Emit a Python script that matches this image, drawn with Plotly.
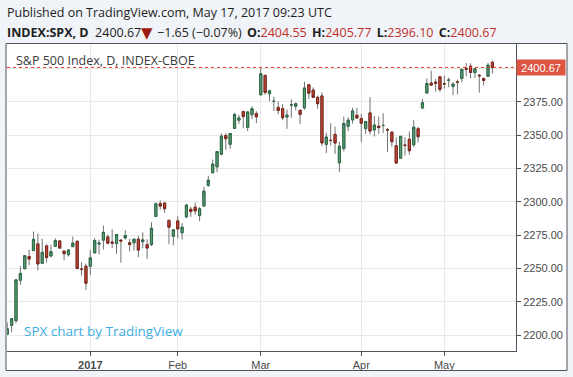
import plotly.graph_objects as go

# ---------------- data ----------------
dates = [
    "2016-12-05", "2016-12-06", "2016-12-07", "2016-12-08", "2016-12-09",
    "2016-12-12", "2016-12-13", "2016-12-14", "2016-12-15", "2016-12-16",
    "2016-12-19", "2016-12-20", "2016-12-21", "2016-12-22", "2016-12-23",
    "2016-12-27", "2016-12-28", "2016-12-29", "2016-12-30",
    "2017-01-03", "2017-01-04", "2017-01-05", "2017-01-06", "2017-01-09",
    "2017-01-10", "2017-01-11", "2017-01-12", "2017-01-13", "2017-01-17",
    "2017-01-18", "2017-01-19", "2017-01-20", "2017-01-23", "2017-01-24",
    "2017-01-25", "2017-01-26", "2017-01-27", "2017-01-30", "2017-01-31",
    "2017-02-01", "2017-02-02", "2017-02-03", "2017-02-06", "2017-02-07",
    "2017-02-08", "2017-02-09", "2017-02-10", "2017-02-13", "2017-02-14",
    "2017-02-15", "2017-02-16", "2017-02-17", "2017-02-21", "2017-02-22",
    "2017-02-23", "2017-02-24", "2017-02-27", "2017-02-28",
    "2017-03-01", "2017-03-02", "2017-03-03", "2017-03-06", "2017-03-07",
    "2017-03-08", "2017-03-09", "2017-03-10", "2017-03-13", "2017-03-14",
    "2017-03-15", "2017-03-16", "2017-03-17", "2017-03-20", "2017-03-21",
    "2017-03-22", "2017-03-23", "2017-03-24", "2017-03-27", "2017-03-28",
    "2017-03-29", "2017-03-30", "2017-03-31",
    "2017-04-03", "2017-04-04", "2017-04-05", "2017-04-06", "2017-04-07",
    "2017-04-10", "2017-04-11", "2017-04-12", "2017-04-13", "2017-04-17",
    "2017-04-18", "2017-04-19", "2017-04-20", "2017-04-21", "2017-04-24",
    "2017-04-25", "2017-04-26", "2017-04-27", "2017-04-28",
    "2017-05-01", "2017-05-02", "2017-05-03", "2017-05-04", "2017-05-05",
    "2017-05-08", "2017-05-09", "2017-05-10", "2017-05-11", "2017-05-12",
    "2017-05-15", "2017-05-16",
]

opens = [
    2200.65, 2207.26, 2210.72, 2241.13, 2249.73, 2258.83, 2263.32, 2268.35, 2253.77, 2266.81,
    2259.24, 2266.50, 2270.54, 2262.93, 2260.25, 2266.23, 2270.23, 2249.50, 2251.61,
    2251.57, 2261.60, 2268.18, 2271.14, 2273.59, 2269.72, 2268.60, 2271.14, 2272.74, 2269.14,
    2269.14, 2271.90, 2269.96, 2267.78, 2267.88, 2288.88, 2298.63, 2299.02, 2286.01, 2274.02,
    2285.59, 2276.69, 2288.54, 2294.28, 2295.87, 2289.55, 2296.70, 2312.27, 2321.72, 2326.12,
    2335.58, 2349.64, 2343.01, 2354.91, 2361.11, 2367.50, 2355.73, 2365.23, 2366.08,
    2380.13, 2394.75, 2380.92, 2375.23, 2370.74, 2369.81, 2363.49, 2372.52, 2371.56, 2368.55,
    2370.34, 2387.71, 2383.71, 2378.24, 2379.32, 2343.00, 2345.97, 2350.42, 2329.11, 2339.79,
    2356.54, 2361.31, 2364.82,
    2362.34, 2354.76, 2366.59, 2353.79, 2356.59, 2357.16, 2353.92, 2352.15, 2341.98, 2332.62,
    2342.53, 2346.79, 2342.69, 2354.74, 2370.33, 2381.51, 2388.98, 2389.70, 2393.68,
    2388.50, 2391.05, 2386.50, 2389.79, 2392.37, 2399.94, 2401.58, 2396.79, 2394.84, 2392.44,
    2393.98, 2404.55,
]

highs = [
    2209.42, 2212.78, 2241.63, 2251.69, 2259.80, 2264.03, 2277.53, 2276.20, 2272.12, 2268.05,
    2267.47, 2272.56, 2271.23, 2263.18, 2263.79, 2273.82, 2271.31, 2254.51, 2253.58,
    2263.88, 2272.82, 2271.50, 2282.10, 2275.49, 2279.27, 2275.32, 2271.78, 2278.68, 2272.08,
    2272.01, 2274.33, 2276.96, 2271.78, 2284.63, 2299.55, 2300.99, 2299.02, 2286.01, 2279.09,
    2289.14, 2283.97, 2298.31, 2296.18, 2299.40, 2295.91, 2311.08, 2319.23, 2331.58, 2337.58,
    2351.30, 2351.31, 2351.16, 2366.71, 2365.13, 2368.26, 2367.34, 2371.54, 2367.79,
    2400.98, 2394.75, 2383.89, 2378.80, 2375.12, 2373.09, 2369.08, 2376.86, 2374.42, 2368.55,
    2390.01, 2388.10, 2385.71, 2379.55, 2381.93, 2351.81, 2358.92, 2356.22, 2344.90, 2363.78,
    2363.36, 2370.42, 2370.35,
    2365.87, 2360.53, 2378.36, 2364.16, 2363.76, 2366.37, 2355.22, 2352.72, 2348.26, 2349.14,
    2348.35, 2352.63, 2361.37, 2356.18, 2376.98, 2392.48, 2398.16, 2392.10, 2393.68,
    2394.49, 2392.93, 2389.82, 2391.43, 2399.29, 2403.87, 2403.87, 2399.74, 2395.72, 2392.44,
    2404.05, 2405.77,
]

lows = [
    2199.97, 2202.21, 2208.93, 2237.57, 2249.23, 2252.37, 2263.32, 2248.44, 2253.77, 2254.24,
    2258.21, 2266.14, 2265.15, 2256.08, 2258.84, 2266.15, 2249.11, 2244.56, 2233.62,
    2245.13, 2261.60, 2260.45, 2264.06, 2268.04, 2265.27, 2260.83, 2254.25, 2271.51, 2262.81,
    2263.35, 2258.41, 2265.01, 2257.02, 2266.68, 2288.88, 2294.08, 2291.62, 2268.04, 2267.21,
    2272.44, 2271.65, 2287.88, 2288.57, 2290.16, 2285.38, 2296.61, 2311.10, 2321.42, 2322.17,
    2334.81, 2338.87, 2339.58, 2354.91, 2358.34, 2355.09, 2352.87, 2361.87, 2358.96,
    2380.13, 2380.17, 2375.39, 2367.98, 2365.51, 2361.01, 2354.54, 2363.04, 2368.52, 2358.18,
    2368.94, 2377.18, 2377.64, 2369.66, 2341.90, 2336.45, 2342.13, 2335.74, 2322.25, 2337.63,
    2352.94, 2358.58, 2362.60,
    2344.73, 2350.72, 2350.52, 2348.90, 2350.74, 2351.50, 2337.25, 2341.18, 2328.95, 2332.51,
    2334.54, 2335.05, 2340.91, 2344.51, 2369.19, 2381.15, 2386.78, 2382.68, 2382.36,
    2384.83, 2385.82, 2379.75, 2380.35, 2389.38, 2393.99, 2392.44, 2392.79, 2381.74, 2387.19,
    2393.94, 2396.10,
]

closes = [
    2204.71, 2212.23, 2241.35, 2246.19, 2259.53, 2256.96, 2271.72, 2253.28, 2262.03, 2258.07,
    2262.53, 2270.76, 2265.18, 2260.96, 2263.79, 2268.88, 2249.92, 2249.26, 2238.83,
    2257.83, 2270.75, 2269.00, 2276.98, 2268.90, 2268.90, 2275.32, 2270.44, 2274.64, 2267.89,
    2271.89, 2263.69, 2271.31, 2265.20, 2280.07, 2298.37, 2296.68, 2294.69, 2280.90, 2278.87,
    2279.55, 2280.85, 2297.42, 2292.56, 2293.08, 2294.67, 2307.87, 2316.10, 2328.25, 2337.58,
    2349.25, 2347.22, 2351.16, 2365.38, 2362.82, 2363.81, 2367.34, 2369.75, 2363.64,
    2395.96, 2381.92, 2383.12, 2375.31, 2368.39, 2362.98, 2364.87, 2372.60, 2373.47, 2365.45,
    2385.26, 2381.38, 2378.25, 2373.47, 2344.02, 2348.45, 2345.96, 2343.98, 2341.59, 2358.57,
    2361.13, 2368.06, 2362.72,
    2358.84, 2360.16, 2352.95, 2357.49, 2355.54, 2357.16, 2353.78, 2344.93, 2328.95, 2349.01,
    2342.19, 2338.17, 2355.84, 2348.69, 2374.15, 2388.61, 2387.45, 2388.77, 2384.20,
    2388.33, 2391.17, 2388.13, 2389.52, 2399.29, 2399.38, 2396.92, 2399.63, 2394.44, 2390.90,
    2402.32, 2400.67,
]

tick_dates = ["2017-01-03", "2017-02-01", "2017-03-01", "2017-04-03", "2017-05-01"]
tick_labels = ["<b>2017</b>", "Feb", "Mar", "Apr", "May"]
price_ticks = [2200, 2225, 2250, 2275, 2300, 2325, 2350, 2375, 2400]
# the 2400 label sits under the last-price tag, so it is left blank
price_tick_labels = ["%.2f" % v for v in price_ticks[:-1]] + [""]

# ---------------- layout geometry ----------------
W, H = 573, 377
PL, PR, PT, PB = 7, 516, 44, 351   # plot area in pixels
pw, ph = PR - PL, PB - PT


def px(xp):
    return (xp - PL) / pw


def py(yp):
    return (PB - yp) / ph


idx = list(range(len(dates)))
tickvals = [dates.index(d) for d in tick_dates]
body_hi = [max(o, c) for o, c in zip(opens, closes)]
body_lo = [min(o, c) for o, c in zip(opens, closes)]

UP_FILL, UP_LINE = "#5a9d75", "#2b6a45"
DN_FILL, DN_LINE = "#c84a3a", "#7a2419"
WICK = "#737375"

fig = go.Figure()
# wicks
fig.add_trace(go.Candlestick(
    x=idx, open=opens, high=highs, low=lows, close=closes,
    increasing=dict(line=dict(color=WICK, width=1), fillcolor=WICK),
    decreasing=dict(line=dict(color=WICK, width=1), fillcolor=WICK),
    hoverinfo="skip", showlegend=False,
))
# bodies
fig.add_trace(go.Candlestick(
    x=idx, open=opens, high=body_hi, low=body_lo, close=closes,
    increasing=dict(line=dict(color=UP_LINE, width=1), fillcolor=UP_FILL),
    decreasing=dict(line=dict(color=DN_LINE, width=1), fillcolor=DN_FILL),
    showlegend=False,
))

last_close = closes[-1]
prev_close = closes[-2]
chg = last_close - prev_close
pct = chg / prev_close * 100


def fmt_signed(v, suffix=""):
    s = "%.2f" % abs(v)
    return ("\u2212" if v < 0 else "+") + s + suffix


RED = "#c0302a"
GAP = " \u2009"
line2a = "<b>INDEX:SPX, D</b>  %.2f" % last_close
line2b = (
    "%s (%s)" + GAP +
    "<b>O:</b><span style='color:%s'>%.2f</span>" + GAP +
    "<b>H:</b><span style='color:%s'>%.2f</span>" + GAP +
    "<b>L:</b><span style='color:%s'>%.2f</span>" + GAP +
    "<b>C:</b><span style='color:%s'>%.2f</span>"
) % (fmt_signed(chg), fmt_signed(pct, "%"),
     RED, opens[-1], RED, highs[-1], RED, lows[-1], RED, closes[-1])

HFONT = dict(family="Open Sans", size=12.5, color="#1e1e1e")
annotations = [
    dict(x=px(5), y=py(13), xref="paper", yref="paper", xanchor="left", yanchor="middle",
         text="Published on TradingView.com, May 17, 2017 09:23 UTC", showarrow=False,
         font=HFONT),
    dict(x=px(5), y=py(33), xref="paper", yref="paper", xanchor="left", yanchor="middle",
         text=line2a, showarrow=False, font=HFONT),
    dict(x=px(147), y=py(33.5), xref="paper", yref="paper", xanchor="center", yanchor="middle",
         text="\u25BC", showarrow=False,
         font=dict(family="DejaVu Sans", size=15, color="#9c1c14")),
    dict(x=px(155), y=py(33), xref="paper", yref="paper", xanchor="left", yanchor="middle",
         text=line2b, showarrow=False, font=HFONT),
    dict(x=px(14), y=py(60), xref="paper", yref="paper", xanchor="left", yanchor="middle",
         text="S&amp;P 500 Index, D, INDEX-CBOE", showarrow=False,
         font=dict(family="Open Sans", size=12.5, color="#3a3a3a")),
    dict(x=px(22), y=py(331), xref="paper", yref="paper", xanchor="left", yanchor="middle",
         text="SPX chart by TradingView", showarrow=False,
         font=dict(family="Open Sans", size=13.5, color="#3eaee2")),
    dict(x=1, y=last_close, xref="paper", yref="y", xanchor="left", yanchor="middle",
         text="%.2f" % last_close, showarrow=False, bgcolor="#dc5442",
         borderpad=1, width=46, height=13,
         font=dict(family="Arial", size=11, color="white")),
]

shapes = [
    dict(type="rect", xref="paper", yref="paper", x0=px(6), x1=px(567), y0=py(370.5), y1=py(43.5),
         fillcolor="white", line=dict(color="#50535e", width=1), layer="below"),
    dict(type="line", xref="paper", yref="y", x0=0, x1=1, y0=last_close, y1=last_close,
         line=dict(color="#e8402f", width=1, dash="dot")),
]

fig.update_layout(
    width=W, height=H,
    margin=dict(l=PL, r=W - PR, t=PT, b=H - PB, pad=0),
    paper_bgcolor="#f0f3f7", plot_bgcolor="white",
    showlegend=False,
    annotations=annotations, shapes=shapes,
    xaxis=dict(
        range=[-0.06, 116.4], rangeslider=dict(visible=False),
        tickvals=tickvals, ticktext=tick_labels,
        showgrid=True, gridcolor="#e8e8e8", gridwidth=1,
        showline=True, linecolor="#50535e", linewidth=1,
        ticks="outside", ticklen=4, tickcolor="#50535e",
        tickfont=dict(family="Arial", size=11, color="#4a4a4a"),
        zeroline=False, fixedrange=True,
    ),
    yaxis=dict(
        side="right", range=[2188, 2418.25],
        tickvals=price_ticks, ticktext=price_tick_labels,
        showgrid=True, gridcolor="#e8e8e8", gridwidth=1,
        showline=True, linecolor="#50535e", linewidth=1,
        ticks="outside", ticklen=4, tickcolor="#50535e",
        tickfont=dict(family="Arial", size=11, color="#4a4a4a"),
        zeroline=False, fixedrange=True,
    ),
)

fig.write_html(
    "out.html",
    config={"displayModeBar": False},
    post_script="document.body.style.margin='0px';document.body.style.background='#f0f3f7';",
)
